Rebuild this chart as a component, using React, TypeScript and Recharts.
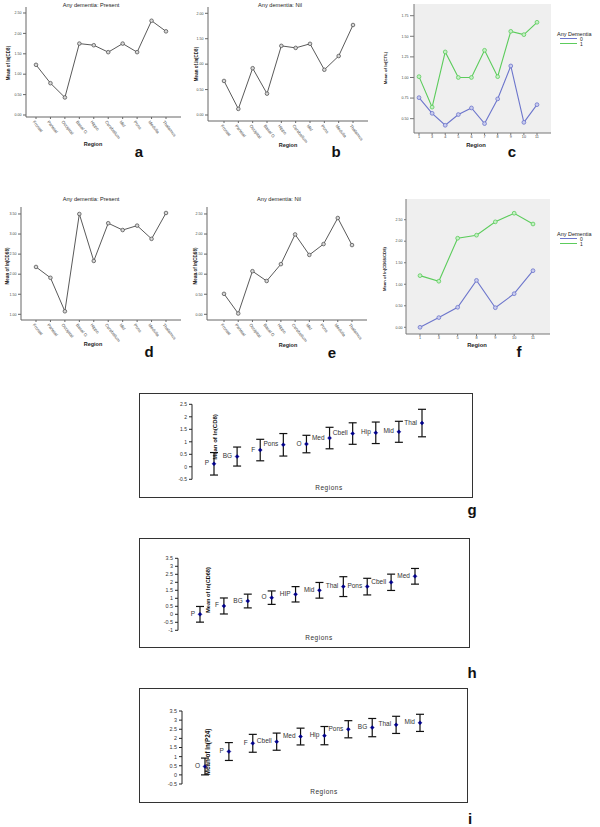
import React from 'react';
import { LineChart, Line, XAxis, YAxis, CartesianGrid, ErrorBar, LabelList } from 'recharts';

const FONT = '"Liberation Sans", Arial, Helvetica, sans-serif';

// ---------- Panels a, b, d, e ----------
const regionNames = ['Frontal', 'Parietal', 'Occipital', 'Basal G', 'Hippo', 'Cerebellum', 'Mid', 'Pons', 'Medulla', 'Thalamus'];
const cd8Present = [1.23, 0.78, 0.43, 1.75, 1.71, 1.54, 1.75, 1.54, 2.31, 2.05];
const cd8Nil = [0.67, 0.12, 0.92, 0.42, 1.36, 1.32, 1.40, 0.89, 1.16, 1.77];
const cd68Present = [2.18, 1.91, 1.075, 3.5, 2.33, 3.27, 3.10, 3.21, 2.88, 3.525];
const cd68Nil = [0.51, 0.02, 1.075, 0.83, 1.25, 1.99, 1.48, 1.75, 2.40, 1.725];

const ticksCD8Present = [0, 0.5, 1, 1.5, 2, 2.5];
const ticksCD8Nil = [0, 0.5, 1, 1.5, 2];
const ticksCD68Present = [1, 1.5, 2, 2.5, 3, 3.5];
const ticksCD68Nil = [0, 0.5, 1, 1.5, 2, 2.5];

// ---------- Panel c ----------
const ctlRegions = ['1', '3', '4', '5', '6', '7', '8', '9', '10', '11'];
const ctlDementia0 = [0.755, 0.565, 0.42, 0.55, 0.63, 0.44, 0.74, 1.14, 0.455, 0.67];
const ctlDementia1 = [1.01, 0.64, 1.31, 1.0, 1.0, 1.33, 1.01, 1.56, 1.52, 1.67];
const ctlTicks = [0.5, 0.75, 1, 1.25, 1.5, 1.75];

// ---------- Panel f ----------
const ratioRegions = ['1', '3', '5', '8', '9', '10', '11'];
const ratioDementia0 = [0.0, 0.225, 0.465, 1.09, 0.455, 0.78, 1.315];
const ratioDementia1 = [1.2, 1.07, 2.07, 2.14, 2.45, 2.65, 2.4];
const ratioTicks = [0, 0.5, 1, 1.5, 2, 2.5];

const dementiaGroups = ['0', '1'];
const groupColors = ['#6d76cc', '#5ccc5c'];

// ---------- Panel g ----------
const gRegions = ['P', 'BG', 'F', 'Pons', 'O', 'Med', 'Cbell', 'Hip', 'Mid', 'Thal'];
const gMeans = [0.12, 0.41, 0.67, 0.88, 0.91, 1.15, 1.33, 1.36, 1.40, 1.75];
const gErr = [0.45, 0.38, 0.43, 0.45, 0.35, 0.43, 0.43, 0.43, 0.42, 0.55];
const gTicks = [-0.5, 0, 0.5, 1, 1.5, 2, 2.5];

// ---------- Panel h ----------
const hRegions = ['P', 'F', 'BG', 'O', 'HIP', 'Mid', 'Thal', 'Pons', 'Cbell', 'Med'];
const hMeans = [0.0, 0.52, 0.83, 1.04, 1.25, 1.5, 1.73, 1.73, 2.0, 2.375];
const hErr = [0.49, 0.5, 0.43, 0.42, 0.48, 0.49, 0.62, 0.52, 0.51, 0.49];
const hTicks = [-1, -0.5, 0, 0.5, 1, 1.5, 2, 2.5, 3, 3.5];

// ---------- Panel i ----------
const iRegions = ['O', 'P', 'F', 'Cbell', 'Med', 'Hip', 'Pons', 'BG', 'Thal', 'Mid'];
const iMeans = [0.46, 1.28, 1.73, 1.82, 2.1, 2.15, 2.5, 2.59, 2.74, 2.85];
const iErr = [0.46, 0.49, 0.49, 0.47, 0.46, 0.5, 0.47, 0.5, 0.47, 0.47];
const iTicks = [-0.5, 0, 0.5, 1, 1.5, 2, 2.5, 3, 3.5];

// ---------- helpers ----------
const toSeries = (names: string[], values: number[]) => names.map((region, i) => ({ region, value: values[i] }));
const toGroups = (names: string[], v0: number[], v1: number[]) => names.map((region, i) => ({ region, d0: v0[i], d1: v1[i] }));
const toErr = (names: string[], means: number[], errs: number[]) => names.map((region, i) => ({ region, mean: means[i], err: errs[i] }));

const frameAxes = (color: string) => [
  <XAxis key="ft" xAxisId="frameTop" orientation="top" type="number" domain={[0, 1]} tick={false} tickLine={false} height={0} axisLine={{ stroke: color, strokeWidth: 1 }} />,
  <YAxis key="fr" yAxisId="frameRight" orientation="right" type="number" domain={[0, 1]} tick={false} tickLine={false} width={0} axisLine={{ stroke: color, strokeWidth: 1 }} />,
];

const AngledTick = (props: any) => {
  const { x, y, payload } = props;
  return (
    <text x={x - 1} y={y} transform={`rotate(52 ${x - 1} ${y})`} fontSize={4.3} fill="#444" fontFamily={FONT} textAnchor="start" dominantBaseline="hanging">
      {payload.value}
    </text>
  );
};

type PanelProps = {
  left: number; top: number; width: number; height: number;
  margin: { top: number; right: number; bottom: number; left: number };
  yWidth: number; xHeight: number; data: any[]; domain: [number, number]; ticks: number[];
  padding: { left: number; right: number };
};

function SpssPanel(p: PanelProps) {
  return (
    <div style={{ position: 'absolute', left: p.left, top: p.top }}>
      <LineChart width={p.width} height={p.height} data={p.data} margin={p.margin}>
        <XAxis dataKey="region" type="category" interval={0} height={p.xHeight} padding={p.padding}
          tick={<AngledTick />} tickSize={2} tickMargin={1} axisLine={{ stroke: '#666' }} tickLine={{ stroke: '#666' }} />
        <YAxis type="number" domain={p.domain} ticks={p.ticks} interval={0} allowDataOverflow width={p.yWidth} tickSize={3} tickMargin={1.5}
          tickFormatter={(v: number) => v.toFixed(2)} tick={{ fontSize: 3.6, fill: '#444', fontFamily: FONT }}
          axisLine={{ stroke: '#666' }} tickLine={{ stroke: '#666' }} />
        {frameAxes('#666')}
        <Line dataKey="value" stroke="#5a5a5a" strokeWidth={1} isAnimationActive={false} activeDot={false}
          dot={{ r: 1.8, stroke: '#555', strokeWidth: 0.8, fill: '#d8d8d8' }} />
      </LineChart>
    </div>
  );
}

type GroupProps = PanelProps & { tickSize: number };

function GroupPanel(p: GroupProps) {
  return (
    <div style={{ position: 'absolute', left: p.left, top: p.top }}>
      <LineChart width={p.width} height={p.height} data={p.data} margin={p.margin}>
        <CartesianGrid fill="#efefef" horizontal={false} vertical={false} />
        <XAxis dataKey="region" type="category" interval={0} height={p.xHeight} padding={p.padding}
          tickSize={2} tickMargin={0.5} tick={{ fontSize: 3.8, fill: '#444', fontFamily: FONT }}
          axisLine={{ stroke: '#777' }} tickLine={{ stroke: '#777' }} />
        <YAxis type="number" domain={p.domain} ticks={p.ticks} interval={0} allowDataOverflow width={p.yWidth} tickSize={p.tickSize} tickMargin={1.5}
          tickFormatter={(v: number) => v.toFixed(2)} tick={{ fontSize: 3.6, fill: '#444', fontFamily: FONT }}
          axisLine={{ stroke: '#777' }} tickLine={{ stroke: '#777' }} />
        {frameAxes('#777')}
        <Line dataKey="d0" name={dementiaGroups[0]} stroke={groupColors[0]} strokeWidth={1.1} isAnimationActive={false} activeDot={false}
          dot={{ r: 1.9, stroke: groupColors[0], strokeWidth: 0.8, fill: '#c9ccee' }} />
        <Line dataKey="d1" name={dementiaGroups[1]} stroke={groupColors[1]} strokeWidth={1.1} isAnimationActive={false} activeDot={false}
          dot={{ r: 1.9, stroke: groupColors[1], strokeWidth: 0.8, fill: '#c6f0c6' }} />
      </LineChart>
    </div>
  );
}

const renderDiamond = (props: any) => {
  const { cx, cy, index } = props;
  if (cx == null || cy == null) return <g key={`dm-${index}`} />;
  return (
    <path key={`dm-${index}`} d={`M${cx},${cy - 2}L${cx + 2},${cy}L${cx},${cy + 2}L${cx - 2},${cy}Z`} fill="#00008b" stroke="#00008b" strokeWidth={0.4} />
  );
};

const renderPointLabel = (props: any) => {
  const x = props.x ?? props.viewBox?.x;
  const y = props.y ?? props.viewBox?.y;
  if (x == null || y == null) return null;
  return (
    <text key={`pl-${props.index}`} x={x - 5} y={y - 1} textAnchor="end" dominantBaseline="central" fontSize={6.5} fill="#333" fontFamily={FONT}>
      {props.value}
    </text>
  );
};

type ErrProps = {
  left: number; top: number; width: number; height: number;
  margin: { top: number; right: number; bottom: number; left: number };
  yWidth: number; data: any[]; domain: [number, number]; ticks: number[]; padding: { left: number; right: number }; tickFont: number;
};

function ErrPanel(p: ErrProps) {
  return (
    <div style={{ position: 'absolute', left: p.left, top: p.top }}>
      <LineChart width={p.width} height={p.height} data={p.data} margin={p.margin}>
        <XAxis dataKey="region" type="category" hide padding={p.padding} />
        <YAxis type="number" domain={p.domain} ticks={p.ticks} interval={0} allowDataOverflow width={p.yWidth} tickSize={3} tickMargin={2}
          tick={{ fontSize: p.tickFont, fill: '#333', fontFamily: FONT }} axisLine={{ stroke: '#222' }} tickLine={{ stroke: '#222' }} />
        <Line dataKey="mean" stroke="none" isAnimationActive={false} activeDot={false} dot={renderDiamond}>
          <ErrorBar dataKey="err" width={4} stroke="#111" strokeWidth={1.2} direction="y" />
          <LabelList dataKey="region" content={renderPointLabel} />
        </Line>
      </LineChart>
    </div>
  );
}

const boxStyle = (left: number, top: number, width: number, height: number): React.CSSProperties => ({
  position: 'absolute', left, top, width, height, border: '1.3px solid #333', boxSizing: 'border-box',
});

export default function App() {
  const sm = { fontFamily: FONT };
  return (
    <div style={{ position: 'absolute', left: 0, top: 0, width: 600, height: 827, background: '#fff' }}>
      {/* a */}
      <SpssPanel left={0} top={0} width={190} height={150} margin={{ top: 7, right: 9, bottom: 0, left: 0 }}
        yWidth={26} xHeight={33} data={toSeries(regionNames, cd8Present)} domain={[-0.049, 2.647]} ticks={ticksCD8Present}
        padding={{ left: 10, right: 15 }} />
      {/* b */}
      <SpssPanel left={190} top={0} width={185} height={150} margin={{ top: 7, right: 7, bottom: 0, left: 0 }}
        yWidth={18} xHeight={29} data={toSeries(regionNames, cd8Nil)} domain={[-0.118, 2.124]} ticks={ticksCD8Nil}
        padding={{ left: 16, right: 15 }} />
      {/* c */}
      <GroupPanel left={370} top={0} width={185} height={142} margin={{ top: 4, right: 4, bottom: 0, left: 0 }}
        yWidth={44} xHeight={9} data={toGroups(ctlRegions, ctlDementia0, ctlDementia1)} domain={[0.326, 1.892]} ticks={ctlTicks}
        padding={{ left: 5, right: 14 }} tickSize={4} />
      {/* d */}
      <SpssPanel left={0} top={195} width={190} height={155} margin={{ top: 12, right: 9, bottom: 0, left: 0 }}
        yWidth={21} xHeight={30} data={toSeries(regionNames, cd68Present)} domain={[0.858, 3.674]} ticks={ticksCD68Present}
        padding={{ left: 15, right: 15 }} />
      {/* e */}
      <SpssPanel left={190} top={195} width={185} height={155} margin={{ top: 12, right: 8, bottom: 0, left: 0 }}
        yWidth={17} xHeight={30} data={toSeries(regionNames, cd68Nil)} domain={[-0.142, 2.674]} ticks={ticksCD68Nil}
        padding={{ left: 17, right: 15 }} />
      {/* f */}
      <GroupPanel left={370} top={190} width={185} height={152} margin={{ top: 9, right: 5, bottom: 0, left: 0 }}
        yWidth={36} xHeight={8} data={toGroups(ratioRegions, ratioDementia0, ratioDementia1)} domain={[-0.156, 2.981]} ticks={ratioTicks}
        padding={{ left: 14, right: 17 }} tickSize={2} />

      {/* g, h, i frames */}
      <div style={boxStyle(139, 393, 334, 105)} />
      <div style={boxStyle(139, 538, 331, 110)} />
      <div style={boxStyle(139, 688, 329, 115)} />

      <ErrPanel left={140} top={394} width={333} height={104} margin={{ top: 10.3, right: 41, bottom: 18.7, left: 0 }}
        yWidth={52} data={toErr(gRegions, gMeans, gErr)} domain={[-0.5, 2.5]} ticks={gTicks} padding={{ left: 22, right: 10 }} tickFont={5} />
      <ErrPanel left={140} top={539} width={330} height={108} margin={{ top: 19.3, right: 45, bottom: 16.7, left: 0 }}
        yWidth={38} data={toErr(hRegions, hMeans, hErr)} domain={[-1, 3.5]} ticks={hTicks} padding={{ left: 22, right: 10 }} tickFont={5.4} />
      <ErrPanel left={140} top={689} width={328} height={113} margin={{ top: 22, right: 38, bottom: 18, left: 0 }}
        yWidth={42} data={toErr(iRegions, iMeans, iErr)} domain={[-0.5, 3.5]} ticks={iTicks} padding={{ left: 23, right: 10 }} tickFont={5.4} />

      {/* text overlay */}
      <svg width={600} height={827} style={{ position: 'absolute', left: 0, top: 0, pointerEvents: 'none' }}>
        <g style={sm} fill="#222">
          {/* titles */}
          <text x={91} y={6.5} fontSize={5.6} textAnchor="middle">Any dementia: Present</text>
          <text x={280} y={6.5} fontSize={5.6} textAnchor="middle">Any dementia: Nil</text>
          <text x={91} y={201} fontSize={5.6} textAnchor="middle">Any dementia: Present</text>
          <text x={279} y={201} fontSize={5.6} textAnchor="middle">Any dementia: Nil</text>

          {/* y-axis titles */}
          <text transform="translate(10,63) rotate(-90)" fontSize={4.5} fontWeight="bold" textAnchor="middle">Mean of ln(CD8)</text>
          <text transform="translate(197.5,64) rotate(-90)" fontSize={4.5} fontWeight="bold" textAnchor="middle">Mean of ln(CD8)</text>
          <text transform="translate(386.5,68) rotate(-90)" fontSize={4.3} fontWeight="bold" textAnchor="middle">Mean of ln(CTL)</text>
          <text transform="translate(9,266) rotate(-90)" fontSize={4.5} fontWeight="bold" textAnchor="middle">Mean of ln(CD68)</text>
          <text transform="translate(197,266) rotate(-90)" fontSize={4.5} fontWeight="bold" textAnchor="middle">Mean of ln(CD68)</text>
          <text transform="translate(385.5,269) rotate(-90)" fontSize={4.2} fontWeight="bold" textAnchor="middle">Mean of ln(CD68/CD8)</text>

          {/* x-axis titles */}
          <text x={93} y={145.5} fontSize={5.5} fontWeight="bold" textAnchor="middle">Region</text>
          <text x={288} y={146.5} fontSize={5.5} fontWeight="bold" textAnchor="middle">Region</text>
          <text x={476} y={146.5} fontSize={5.8} fontWeight="bold" textAnchor="middle">Region</text>
          <text x={93} y={345.5} fontSize={5.5} fontWeight="bold" textAnchor="middle">Region</text>
          <text x={288} y={346.5} fontSize={5.5} fontWeight="bold" textAnchor="middle">Region</text>
          <text x={477} y={346.5} fontSize={5.8} fontWeight="bold" textAnchor="middle">Region</text>

          {/* legends */}
          {[35.5, 235.5].map((by, k) => (
            <g key={`lg-${k}`}>
              <text x={557} y={by} fontSize={5.5}>Any Dementia</text>
              {dementiaGroups.map((g, j) => (
                <g key={g}>
                  <line x1={560} x2={577} y1={by + 3 + j * 5} y2={by + 3 + j * 5} stroke={groupColors[j]} strokeWidth={1} />
                  <text x={580} y={by + 5 + j * 5} fontSize={5}>{g}</text>
                </g>
              ))}
            </g>
          ))}

          {/* g/h/i axis titles */}
          <text transform="translate(217,437) rotate(-90)" fontSize={6} fontWeight="bold" textAnchor="middle" fill="#111">Mean of ln(CD8)</text>
          <text transform="translate(209.5,590) rotate(-90)" fontSize={5.6} fontWeight="bold" textAnchor="middle" fill="#111">Mean of ln(CD68)</text>
          <text transform="translate(209.7,752) rotate(-90)" fontSize={6.3} fontWeight="bold" textAnchor="middle" fill="#111">Mean of ln(P24)</text>
          <text x={329} y={489.5} fontSize={6.5} letterSpacing={0.5} textAnchor="middle" fill="#333">Regions</text>
          <text x={319} y={640} fontSize={6.5} letterSpacing={0.5} textAnchor="middle" fill="#333">Regions</text>
          <text x={324} y={794} fontSize={6.5} letterSpacing={0.5} textAnchor="middle" fill="#333">Regions</text>

          {/* panel letters */}
          <g fontSize={15} fontWeight="bold" textAnchor="middle" fill="#111">
            <text x={139} y={157}>a</text>
            <text x={336} y={157}>b</text>
            <text x={512} y={157}>c</text>
            <text x={149} y={357}>d</text>
            <text x={332} y={358}>e</text>
            <text x={519} y={357}>f</text>
            <text x={472} y={515}>g</text>
            <text x={472} y={678}>h</text>
            <text x={470} y={824}>i</text>
          </g>
        </g>
      </svg>
    </div>
  );
}
